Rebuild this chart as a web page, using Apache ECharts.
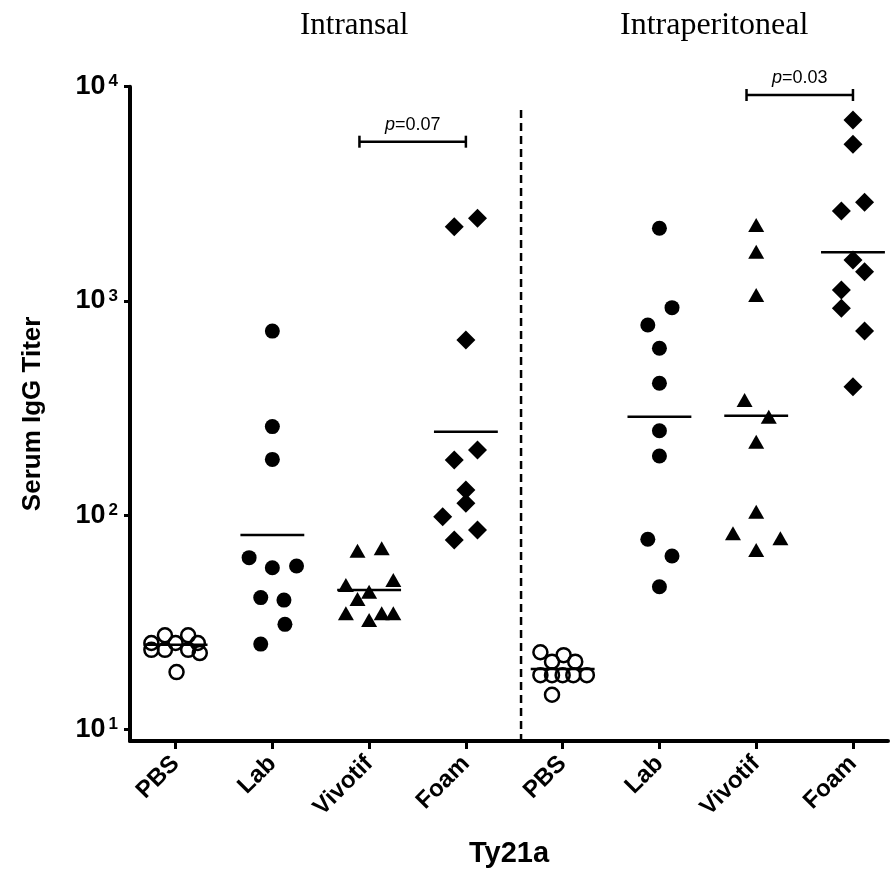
<!DOCTYPE html>
<html><head><meta charset="utf-8">
<script src="https://cdn.jsdelivr.net/npm/echarts@6/dist/echarts.min.js"></script>
<style>html,body{margin:0;padding:0;background:#fff}#c{width:890px;height:876px}</style>
</head><body><div id="c"></div>
<script>
// ---- data ----
const categories = ['PBS','Lab','Vivotif','Foam','PBS','Lab','Vivotif','Foam'];
const routeTitles = ['Intransal','Intraperitoneal'];
const yTickValues = [10,100,1000,10000];

const pbsIN = [25.3,23.5,27.5,23.5,25.3,27.5,23.5,25.3,22.7,18.5];
const pbsINJitter = [-0.25,-0.25,-0.11,-0.11,0,0.13,0.13,0.23,0.25,0.01];
const labIN = [723,259,182,63.3,56.8,57.9,41.2,40.1,30.9,25.0];
const labINJitter = [0,0,0,-0.24,0,0.25,-0.12,0.12,0.13,-0.12];
const vivIN = [68.2,70.0,47.2,49.8,43.9,40.6,34.8,32.4,34.8,34.8];
const vivINJitter = [-0.12,0.13,-0.24,0.25,0,-0.12,-0.24,0,0.13,0.25];
const foamIN = [2220,2430,657,180.8,201.3,131,113.5,98.3,85.2,76.5];
const foamINJitter = [-0.12,0.12,0,-0.12,0.12,0,0,-0.24,0.12,-0.12];

const pbsIP = [22.9,20.7,22.2,20.7,17.9,17.9,17.9,17.9,17.9,14.5];
const pbsIPJitter = [-0.23,-0.11,0.01,0.13,-0.23,-0.11,0,0.11,0.25,-0.11];
const labIP = [2183,930,772,601,412.5,247.7,188.7,77.1,64.4,46.3];
const labIPJitter = [0,0.13,-0.12,0,0,0,0,-0.12,0.13,0];
const vivIP = [2261,1697,1065,344.6,288,220,103.7,82.2,77.9,68.7];
const vivIPJitter = [0,0,0,-0.12,0.13,0,0,-0.24,0.25,0];
const foamIP = [6990,5384,2628,2886,1552,1369,1124,924,723,397.6];
const foamIPJitter = [0,0,-0.12,0.12,0,0.12,-0.12,-0.12,0.12,0];

const geoMeans = [24.8,80.7,44.7,245,19.1,288,291,1686];

const pFrom = [1.9, 5.9];
const pTo = [3, 7];
const pLevel = [5537, 9146];
const pText = ['0.07', '0.03'];

const dividerX = 3.57;
const dividerTop = 7780;

// ---- build ----
const groups = [
  [pbsIN, pbsINJitter, 'open'], [labIN, labINJitter, 'circle'],
  [vivIN, vivINJitter, 'triangle'], [foamIN, foamINJitter, 'diamond'],
  [pbsIP, pbsIPJitter, 'open'], [labIP, labIPJitter, 'circle'],
  [vivIP, vivIPJitter, 'triangle'], [foamIP, foamIPJitter, 'diamond']
];
const SANS = 'Arial, "Liberation Sans", Helvetica, sans-serif';
const SERIF = '"Times New Roman", "Liberation Serif", serif';
const Y_MIN = 8.82;

const series = groups.map(([vals, jit, kind], ci) => {
  const s = {
    type: 'scatter',
    data: vals.map((v, i) => [ci + jit[i], v]),
    z: 5,
    silent: true
  };
  if (kind === 'open') {
    s.symbol = 'circle'; s.symbolSize = 14;
    s.itemStyle = {color: 'rgba(0,0,0,0)', borderColor: '#000', borderWidth: 2.5, opacity: 1};
  } else if (kind === 'circle') {
    s.symbol = 'circle'; s.symbolSize = 15; s.itemStyle = {color: '#000', opacity: 1};
  } else if (kind === 'triangle') {
    s.symbol = 'triangle'; s.symbolSize = [16, 14]; s.itemStyle = {color: '#000', opacity: 1};
  } else {
    s.symbol = 'diamond'; s.symbolSize = 19; s.itemStyle = {color: '#000', opacity: 1};
  }
  return s;
});

// mean lines
series.push({
  type: 'custom',
  data: geoMeans.map((m, i) => [i, m]),
  clip: false, silent: true, z: 4,
  renderItem: (params, api) => {
    const x = api.value(0), y = api.value(1);
    const a = api.coord([x - 0.33, y]), b = api.coord([x + 0.33, y]);
    return {type: 'line', shape: {x1: a[0], y1: a[1], x2: b[0], y2: b[1]},
      style: {stroke: '#000', lineWidth: 2.5}};
  }
});

// significance brackets
series.push({
  type: 'custom',
  data: pFrom.map((f, i) => [f, pTo[i], pLevel[i], i]),
  clip: false, silent: true, z: 6,
  renderItem: (params, api) => {
    const a = api.coord([api.value(0), api.value(2)]);
    const b = api.coord([api.value(1), api.value(2)]);
    const idx = api.value(3);
    return {type: 'group', children: [
      {type: 'line', shape: {x1: a[0], y1: a[1], x2: b[0], y2: b[1]}, style: {stroke: '#000', lineWidth: 2.5}},
      {type: 'line', shape: {x1: a[0], y1: a[1] - 6, x2: a[0], y2: a[1] + 6}, style: {stroke: '#000', lineWidth: 2.5}},
      {type: 'line', shape: {x1: b[0], y1: b[1] - 6, x2: b[0], y2: b[1] + 6}, style: {stroke: '#000', lineWidth: 2.5}},
      {type: 'text', x: (a[0] + b[0]) / 2, y: a[1] - 8,
        style: {text: '{i|p}=' + pText[idx], align: 'center', verticalAlign: 'bottom',
          fontFamily: SANS, fontSize: 18, fill: '#000',
          rich: {i: {fontStyle: 'italic', fontFamily: SANS, fontSize: 18, fill: '#000'}}}}
    ]};
  }
});

// dashed divider
series.push({
  type: 'custom',
  data: [[dividerX, dividerTop]],
  clip: false, silent: true, z: 3,
  renderItem: (params, api) => {
    const a = api.coord([api.value(0), api.value(1)]);
    const b = api.coord([api.value(0), Y_MIN]);
    return {type: 'line', shape: {x1: a[0], y1: a[1], x2: b[0], y2: b[1]},
      style: {stroke: '#000', lineWidth: 2.5, lineDash: [8, 5]}};
  }
});

const chart = echarts.init(document.getElementById('c'), null, {renderer: 'canvas'});
chart.setOption({
  backgroundColor: '#fff',
  animation: false,
  grid: {left: 130, right: 2, top: 86.7, bottom: 135, outerBoundsMode: 'none', containLabel: false},
  xAxis: {
    type: 'value', min: -0.471, max: 7.362,
    name: 'Ty21a', nameLocation: 'middle', nameGap: 98,
    nameTextStyle: {fontFamily: SANS, fontWeight: 'bold', fontSize: 29, color: '#000'},
    axisLine: {show: true, onZero: false, lineStyle: {color: '#000', width: 4}},
    axisTick: {show: true, length: 8, lineStyle: {color: '#000', width: 3}, customValues: categories.map((c, i) => i)},
    axisLabel: {customValues: categories.map((c, i) => i), formatter: v => categories[Math.round(v)],
      rotate: 45, margin: 19, fontFamily: SANS, fontWeight: 'bold', fontSize: 24, color: '#000'},
    splitLine: {show: false}
  },
  yAxis: {
    type: 'log', logBase: 10, min: Y_MIN, max: 10000,
    name: 'Serum IgG Titer', nameLocation: 'middle', nameGap: 84, nameRotate: 90,
    nameTextStyle: {fontFamily: SANS, fontWeight: 'bold', fontSize: 26, color: '#000'},
    axisLine: {show: true, onZero: false, lineStyle: {color: '#000', width: 4}},
    axisTick: {show: true, length: 6, lineStyle: {color: '#000', width: 3}, customValues: yTickValues},
    axisLabel: {customValues: yTickValues, margin: 12,
      formatter: v => '{b|10}{s|' + Math.round(Math.log10(v)) + '}',
      rich: {
        b: {fontFamily: SANS, fontWeight: 'bold', fontSize: 27, color: '#000'},
        s: {fontFamily: SANS, fontWeight: 'bold', fontSize: 17, color: '#000', verticalAlign: 'top', padding: [0, 0, 0, 3]}
      }},
    splitLine: {show: false}
  },
  graphic: [
    {type: 'text', left: 300, top: 10, style: {text: routeTitles[0], fontFamily: SERIF, fontSize: 31, fill: '#000'}},
    {type: 'text', left: 620, top: 10, style: {text: routeTitles[1], fontFamily: SERIF, fontSize: 32, fill: '#000'}}
  ],
  series: series
});
</script>
</body></html>
